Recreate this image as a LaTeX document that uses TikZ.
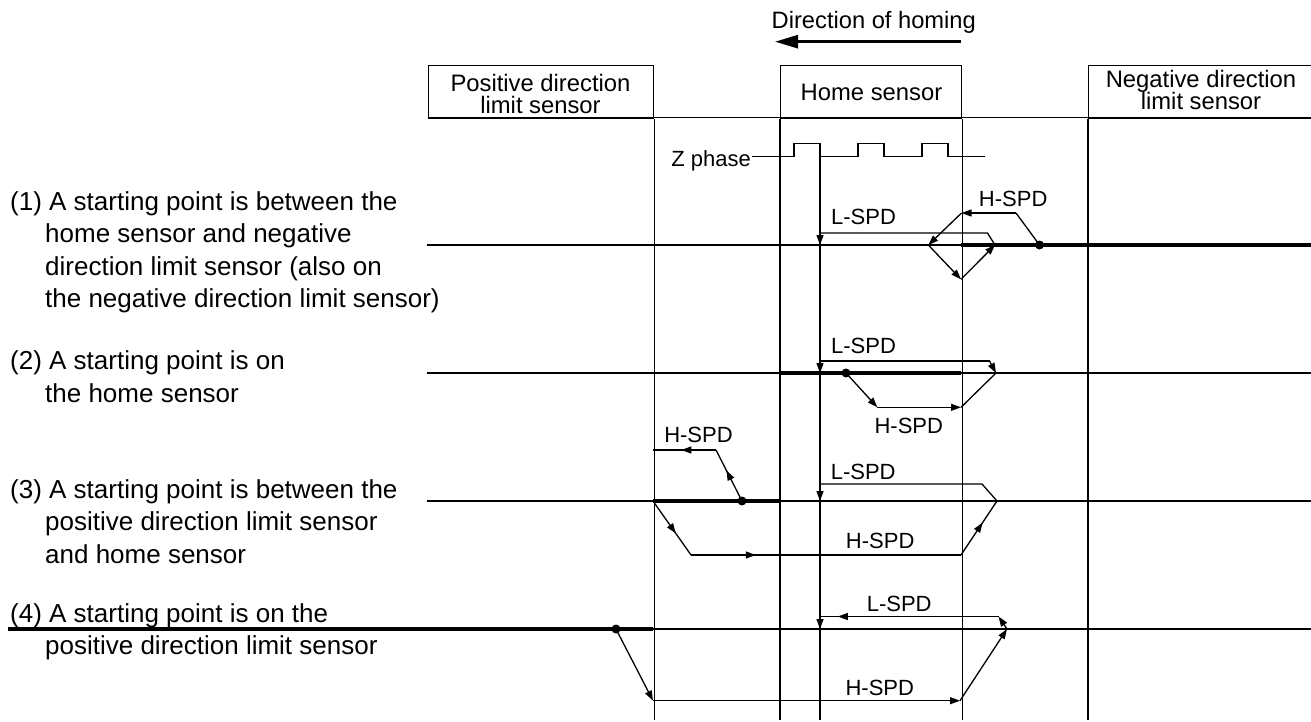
\documentclass[tikz,border=0pt]{standalone}
\usepackage{fontspec}
\setmainfont{Liberation Sans}
\usetikzlibrary{arrows.meta,decorations.markings}
\tikzset{
  ln/.style={line width=1.3pt, black},
  thk/.style={line width=4pt, black},
  ah/.style={-{Triangle[length=10pt,width=7pt]}},
  marr/.style={postaction={decorate},decoration={markings,mark=at position #1 with {\arrow{Triangle[length=10pt,width=7pt]}}}},
  lbl/.style={font=\fontsize{22}{22}\selectfont, inner sep=0pt, anchor=base},
  boxtxt/.style={font=\fontsize{23.8}{22}\selectfont, inner sep=0pt, anchor=base},
  lefttxt/.style={font=\fontsize{26}{32}\selectfont, inner sep=0pt, anchor=base west},
  sbox/.style={draw, ln, inner sep=0pt, minimum height=52.5pt, anchor=north west},
  dot/.style={circle, fill=black, inner sep=0pt, minimum size=9pt}
}
\begin{document}
\begin{tikzpicture}[x=1pt,y=-1pt]
\useasboundingbox (0,0) rectangle (1311,722);
% direction of homing
\node[font=\fontsize{23.7}{24}\selectfont, inner sep=0pt, anchor=base] (dirlbl) at (873.8,28.3) {Direction of homing};
\coordinate (dirA) at (961,41.7);
\coordinate (dirB) at (775,41.7);
\draw[line width=2.6pt, -{Triangle[length=23pt,width=13pt]}] (dirA) -- (dirB);
% sensor boxes
\node[sbox, minimum width=225pt] (posbox) at (428,65) {};
\node[sbox, minimum width=181pt] (homebox) at (780,65) {};
\node[sbox, minimum width=240pt] (negbox) at (1088,65) {};
\node[boxtxt] (pt1) at (540.5,91.7) {Positive direction};
\node[boxtxt] (pt2) at (540.5,113.3) {limit sensor};
\node[boxtxt] (ht) at (871.5,101) {Home sensor};
\node[boxtxt] (nt1) at (1201,87.5) {Negative direction};
\node[boxtxt] (nt2) at (1201,109.5) {limit sensor};
\coordinate (topL) at (653,117.5);
\coordinate (topR) at (1088,117.5);
\draw[ln] (topL) -- (topR);
% vertical lines
\coordinate (bot) at (0,720);
\draw[ln] (posbox.south east) -- (posbox.south east |- bot);
\draw[ln] (homebox.south west) -- (homebox.south west |- bot);
\draw[ln] (homebox.south east) -- (homebox.south east |- bot);
\draw[ln] (negbox.south west) -- (negbox.south west |- bot);
% Z phase
\node[lbl, anchor=base east] (zlbl) at (751,166.7) {Z phase};
\draw[ln] (752,156.7) -- (794,156.7) -- (794,143.3) -- (820,143.3) -- (820,720);
\draw[ln] (820,156.7) -- (858,156.7) -- (858,143.3) -- (884,143.3) -- (884,156.7) -- (922,156.7) -- (922,143.3) -- (948,143.3) -- (948,156.7) -- (985,156.7);
% left texts
\node[lefttxt] (t11) at (10,210.5) {(1) A starting point is between the};
\node[lefttxt] (t12) at (45,242.8) {home sensor and negative};
\node[lefttxt] (t13) at (45,275.1) {direction limit sensor (also on};
\node[lefttxt] (t14) at (45,307.4) {the negative direction limit sensor)};
\node[lefttxt] (t21) at (10,369.5) {(2) A starting point is on};
\node[lefttxt] (t22) at (45,402) {the home sensor};
\node[lefttxt] (t31) at (10,498.5) {(3) A starting point is between the};
\node[lefttxt] (t32) at (45,530.8) {positive direction limit sensor};
\node[lefttxt] (t33) at (45,563) {and home sensor};
\node[lefttxt] (t41) at (10,622) {(4) A starting point is on the};
\node[lefttxt] (t42) at (45,654.5) {positive direction limit sensor};
% ---------- Row 1
\coordinate (r1L) at (427,245); \coordinate (r1R) at (1311,245); \coordinate (r1h) at (961,245);
\draw[ln] (r1L) -- (r1R);
\draw[thk] (r1h) -- (r1R);
\node[dot] (d1) at (1039.5,245) {};
\coordinate (a1) at (1016,213); \coordinate (b1) at (961.5,213); \coordinate (c1) at (928.3,245);
\coordinate (e1) at (961,279.3); \coordinate (f1) at (995,245); \coordinate (g1) at (987.5,233);
\coordinate (h1) at (820,233); \coordinate (k1) at (820,245);
\draw[ln] (d1.center) -- (a1);
\draw[ln,ah] (a1) -- (b1);
\draw[ln,ah] (b1) -- (c1);
\draw[ln,ah] (c1) -- (e1);
\draw[ln,ah] (e1) -- (f1);
\draw[ln] (f1) -- (g1) -- (h1);
\draw[ln,ah] (h1) -- (k1);
\node[lbl] (l1) at (863.5,225) {L-SPD};
\node[lbl] (h1l) at (1013.2,206.7) {H-SPD};
% ---------- Row 2
\coordinate (r2L) at (427,373); \coordinate (r2R) at (1311,373);
\coordinate (r2a) at (780,373); \coordinate (r2b) at (961,373);
\draw[ln] (r2L) -- (r2R);
\draw[thk] (r2a) -- (r2b);
\node[dot] (d2) at (846,373) {};
\coordinate (a2) at (877.3,407.3); \coordinate (b2) at (961,407.3); \coordinate (c2) at (996,373);
\coordinate (e2) at (989.5,361); \coordinate (f2) at (820,361); \coordinate (g2) at (820,373);
\draw[ln,ah] (d2.center) -- (a2);
\draw[ln,ah] (a2) -- (b2);
\draw[ln] (b2) -- (c2);
\draw[ln,ah] (e2) -- (c2);
\draw[ln] (e2) -- (f2);
\draw[ln,ah] (f2) -- (g2);
\node[lbl] (l2) at (863.5,353.3) {L-SPD};
\node[lbl] (h2l) at (908.8,433.3) {H-SPD};
% ---------- Row 3
\coordinate (r3L) at (427,501); \coordinate (r3R) at (1311,501);
\coordinate (r3a) at (653,501); \coordinate (r3b) at (780,501);
\draw[ln] (r3L) -- (r3R);
\draw[thk] (r3a) -- (r3b);
\node[dot] (d3) at (742,501) {};
\coordinate (a3) at (716,450); \coordinate (b3) at (653,450); \coordinate (c3) at (653,501);
\coordinate (e3) at (691,555); \coordinate (f3) at (961,555); \coordinate (g3) at (997,501);
\coordinate (h3) at (982,484); \coordinate (k3) at (820,484); \coordinate (m3) at (820,501);
\draw[ln,marr=0.6] (d3.center) -- (a3);
\draw[ln,marr=0.55] (a3) -- (b3);
\draw[ln,marr=0.6] (c3) -- (e3);
\draw[ln,marr=0.24] (e3) -- (f3);
\draw[ln,marr=0.6] (f3) -- (g3);
\draw[ln] (g3) -- (h3) -- (k3);
\draw[ln,ah] (k3) -- (m3);
\node[lbl] (h3t) at (698.5,442.3) {H-SPD};
\node[lbl] (l3) at (863.2,479) {L-SPD};
\node[lbl] (h3b) at (880.2,548.3) {H-SPD};
% ---------- Row 4
\coordinate (r4L) at (8,629); \coordinate (r4m) at (653,629); \coordinate (r4R) at (1311,629);
\draw[thk] (r4L) -- (r4m);
\draw[ln] (r4m) -- (r4R);
\node[dot] (d4) at (616,629) {};
\coordinate (a4) at (653,700.7); \coordinate (b4) at (960,700.7); \coordinate (c4) at (1007,629);
\coordinate (e4) at (998.5,616.5); \coordinate (f4) at (820,616.5); \coordinate (g4) at (820,629);
\draw[ln,ah] (d4.center) -- (a4);
\draw[ln,ah] (a4) -- (b4);
\draw[ln,ah] (b4) -- (c4);
\draw[ln,ah] (c4) -- (e4);
\draw[ln,marr=0.9] (e4) -- (f4);
\draw[ln,ah] (f4) -- (g4);
\node[lbl] (l4) at (899.2,611.7) {L-SPD};
\node[lbl] (h4l) at (879.8,695) {H-SPD};
\end{tikzpicture}
\end{document}
